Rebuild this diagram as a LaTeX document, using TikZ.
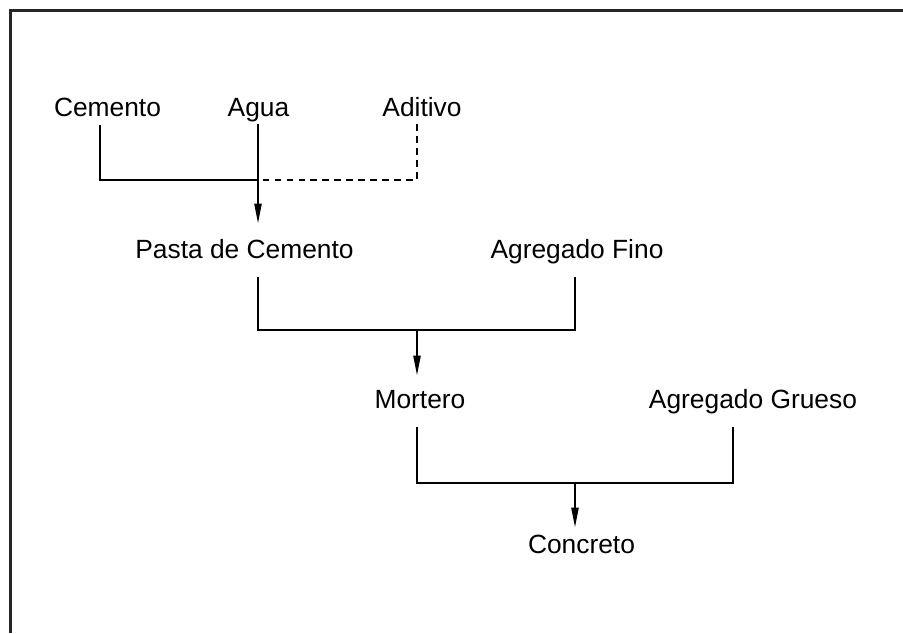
\documentclass[tikz,border=0pt]{standalone}
\usepackage{fontspec}
\setmainfont{Liberation Sans}
\usetikzlibrary{arrows.meta}
\tikzset{
    lbl/.style={anchor=base, inner sep=0pt, font=\fontsize{15pt}{18pt}\selectfont},
    flow/.style={line width=0.6pt},
    flecha/.style={line width=0.6pt, -{Triangle[length=11pt,width=4.2pt]}},
    opcional/.style={line width=0.6pt, dash pattern=on 3.8pt off 3pt}
}
\begin{document}
\begin{tikzpicture}
                \useasboundingbox (0, 0) rectangle (18.06, 12.66);
                \draw[line width=1.2pt, black!85] (18.06, 12.45) -- (0.21, 12.45) -- (0.21, 0);

                % materiales
                \node[lbl] (cemento) at (2.15, 10.32) {Cemento};
                \node[lbl] (agua) at (5.17, 10.32) {Agua};
                \node[lbl] (aditivo) at (8.44, 10.32) {Aditivo};
                \node[lbl] (pasta) at (4.89, 7.5) {Pasta de Cemento};
                \node[lbl] (fino) at (11.54, 7.5) {Agregado Fino};
                \node[lbl] (mortero) at (8.4, 4.5) {Mortero};
                \node[lbl] (grueso) at (15.06, 4.5) {Agregado Grueso};
                \node[lbl] (concreto) at (11.63, 1.6) {Concreto};

                % puntos de salida y llegada
                \coordinate (cemento-o) at (2.0, 10.16);
                \coordinate (agua-o) at (5.16, 10.17);
                \coordinate (aditivo-o) at (8.34, 10.17);
                \coordinate (mezcla1) at (5.16, 9.06);
                \coordinate (pasta-i) at (5.16, 8.2);
                \coordinate (pasta-o) at (5.16, 7.12);
                \coordinate (fino-o) at (11.5, 7.12);
                \coordinate (mezcla2) at (8.34, 6.06);
                \coordinate (mortero-i) at (8.34, 5.16);
                \coordinate (mortero-o) at (8.34, 4.12);
                \coordinate (grueso-o) at (14.66, 4.12);
                \coordinate (mezcla3) at (11.5, 3.0);
                \coordinate (concreto-i) at (11.5, 2.12);

                \draw[flow] (cemento-o) |- (mezcla1);
                \draw[opcional] (aditivo-o) |- (mezcla1);
                \draw[flecha] (agua-o) -- (pasta-i);

                \draw[flow] (pasta-o) |- (mezcla2) -| (fino-o);
                \draw[flecha] (mezcla2) -- (mortero-i);

                \draw[flow] (mortero-o) |- (mezcla3) -| (grueso-o);
                \draw[flecha] (mezcla3) -- (concreto-i);
            \end{tikzpicture}
\end{document}
